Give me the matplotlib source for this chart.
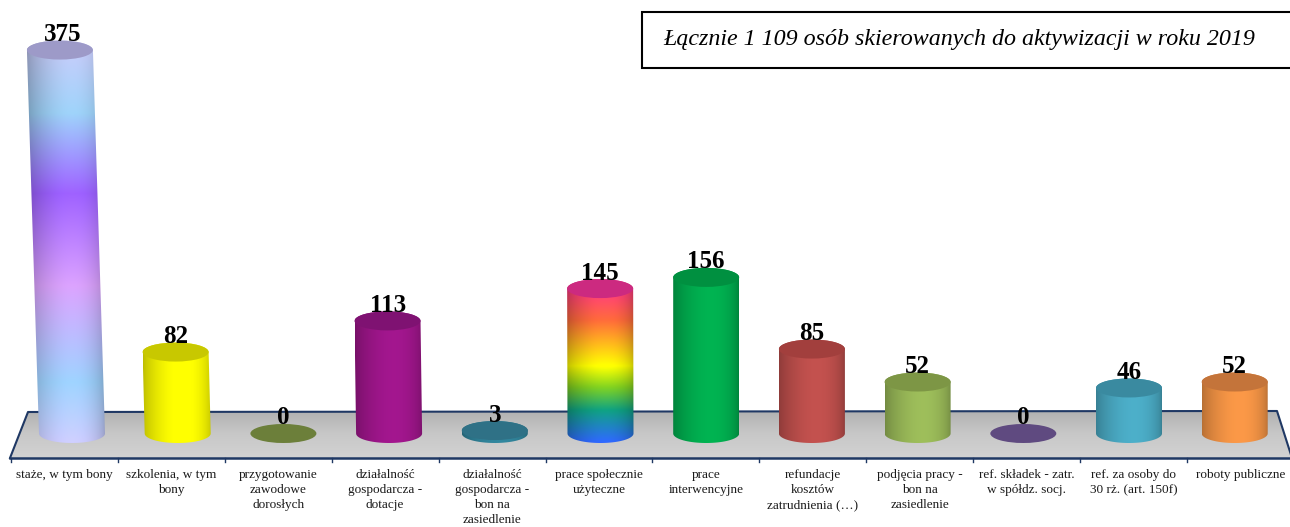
"""Aktywizacja 2019 - cylinder chart drawn with gradient images clipped to shapes."""
import numpy as np
import matplotlib
matplotlib.use("Agg")
import matplotlib.pyplot as plt
from matplotlib.colors import LinearSegmentedColormap, to_rgb
from matplotlib.patches import Ellipse, Polygon, Rectangle
from matplotlib.transforms import Affine2D

plt.rcParams['font.family'] = ['Liberation Serif', 'DejaVu Serif']

categories = [
    "staże, w tym bony", "szkolenia, w tym\nbony", "przygotowanie\nzawodowe\ndorosłych",
    "działalność\ngospodarcza -\ndotacje", "działalność\ngospodarcza -\nbon na\nzasiedlenie",
    "prace społecznie\nużyteczne", "prace\ninterwencyjne", "refundacje\nkosztów\nzatrudnienia (…)",
    "podjęcia pracy -\nbon na\nzasiedlenie", "ref. składek - zatr.\nw spółdz. socj.",
    "ref. za osoby do\n30 rż. (art. 150f)", "roboty publiczne",
]
values = [375, 82, 0, 113, 3, 145, 156, 85, 52, 0, 46, 52]

# body colours from top to bottom of each cylinder, (position, colour)
body_colors = [
    [(0, "#c8c8f6"), (0.18, "#9cd0f6"), (0.38, "#9c60ff"), (0.61, "#d8a0fa"), (0.85, "#9cd0fc"), (1, "#ccccff")],
    [(0, "#ffff00"), (1, "#ffff00")],
    [(0, "#76923c"), (1, "#76923c")],
    [(0, "#a0168c"), (1, "#a0168c")],
    [(0, "#31859c"), (1, "#31859c")],
    [(0, "#ff2a96"), (0.25, "#ff6a3a"), (0.53, "#ffff00"), (0.66, "#80d020"), (0.8, "#0fa080"), (1, "#2f66ff")],
    [(0, "#00b050"), (1, "#00b050")],
    [(0, "#c0504d"), (1, "#c0504d")],
    [(0, "#9bbb59"), (1, "#9bbb59")],
    [(0, "#604a7b"), (1, "#604a7b")],
    [(0, "#4bacc6"), (1, "#4bacc6")],
    [(0, "#f79646"), (1, "#f79646")],
]
cap_colors = ["#9d9ac8", "#c8c800", "#6c7f3a", "#7f1272", "#2f7186", "#cc2a80", "#009040",
              "#a23f3d", "#7d9645", "#5f4a80", "#3a8aa0", "#c4743a"]

BAR_STEP_PX = 105.7
FIRST_BAR_PX = 72
BASE_Y_PX = 433.5
W, H = 1290, 527
HALF_W = 33 / BAR_STEP_PX
HALF_H = 9.5

fig = plt.figure(figsize=(W / 100, H / 100), dpi=100)
ax = fig.add_axes([0, 0, 1, 1])
ax.set_xlim(-FIRST_BAR_PX / BAR_STEP_PX, (W - FIRST_BAR_PX) / BAR_STEP_PX)
ax.set_ylim(BASE_Y_PX - H, BASE_Y_PX)
ax.axis('off')

# decorations are placed in image pixels, y measured from the top
px = Affine2D().scale(1, -1).translate(0, H)


def height_of(value):
    # the tall bar is stretched a little by the perspective of the 3D view
    return value * (0.985 + 1.0e-4 * value)


def lean_of(i, value):
    # only the left hand bars tip over, in category units
    x_px = i * BAR_STEP_PX + FIRST_BAR_PX
    return min(0, (x_px - 645) * 5.5e-5 * height_of(value)) / BAR_STEP_PX


def cylinder_outline(xc, top, lean):
    t = np.linspace(np.pi, 2 * np.pi, 40)
    low = np.c_[xc + HALF_W * np.cos(t), HALF_H * np.sin(t)]
    t = np.linspace(0, np.pi, 40)
    high = np.c_[xc + lean + HALF_W * np.cos(t), top + HALF_H * np.sin(t)]
    return np.vstack([low, high])


def draw_cylinder(i, value):
    cap = cap_colors[i]
    if value == 0:
        ax.add_patch(Ellipse((i, 0), 2 * HALF_W, 2 * HALF_H, color=cap, lw=0, zorder=3))
        return
    top = height_of(value)
    lean = lean_of(i, value)
    # vertical colour ramp multiplied by the horizontal round shading
    stops = [(p, to_rgb(c)) for p, c in body_colors[i]]
    cmap = LinearSegmentedColormap.from_list("body", stops)
    ramp = cmap(np.linspace(0, 1, 256))[:, :3]
    u = np.linspace(0, 1, 128)
    shade = 0.74 + 0.28 * np.sin(np.pi * u ** 1.25) ** 0.6
    img = np.clip(ramp[:, None, :] * shade[None, :, None], 0, 1)
    im = ax.imshow(img, extent=[i + lean - HALF_W, i + HALF_W, -HALF_H, top + HALF_H],
                   aspect='auto', zorder=3, interpolation='bilinear')
    clip = Polygon(cylinder_outline(i, top, lean), transform=ax.transData, fc='none', ec='none')
    ax.add_patch(clip)
    im.set_clip_path(clip)
    ax.add_patch(Ellipse((i + lean, top), 2 * HALF_W, 2 * HALF_H, color=cap, lw=0, zorder=4))


# floor
floor = Polygon([(28, 412), (1277, 411), (1292, 458), (10, 458)], transform=px, fc='none', ec='none')
ax.add_patch(floor)
floor_cmap = LinearSegmentedColormap.from_list("floor", ["#b2b2b2", "#c8c8c8", "#d2d2d2"])
fim = ax.imshow(np.linspace(0, 1, 64)[:, None], cmap=floor_cmap, aspect='auto', zorder=1,
                extent=[ax.get_xlim()[0], ax.get_xlim()[1], BASE_Y_PX - 458, BASE_Y_PX - 411])
fim.set_clip_path(floor)
ax.plot([10, 28, 1277, 1292], [458, 412, 411, 458], transform=px, color="#1f3864", lw=1.5, zorder=2)
ax.plot([10, 1292], [458, 458], transform=px, color="#1f3864", lw=1.8, zorder=5)
for k in range(len(categories) + 1):
    tx = 11 + 106.9 * k
    ax.plot([tx, tx], [458, 462], transform=px, color="#1f3864", lw=1.0, zorder=5)

for i, value in enumerate(values):
    draw_cylinder(i, value)

# value labels and category names
for i, (value, name) in enumerate(zip(values, categories)):
    ax.text(i + 0.75 * lean_of(i, value), height_of(value) + 9, str(value), ha='center',
            va='baseline', fontsize=18, fontweight='bold', color='black', zorder=6)
    ax.text(11 + 106.9 * (i + 0.5), 469, name, transform=px, ha='center', va='top', fontsize=9.5,
            color='#1a1a1a', linespacing=1.34, zorder=6)

# title box
ax.add_patch(Rectangle((642, 12), 660, 56, transform=px, fc='white', ec='black', lw=1.5, zorder=7))
ax.text(663, 45, "Łącznie 1 109 osób skierowanych do aktywizacji w roku 2019", transform=px,
        ha='left', va='baseline', fontsize=17.3, fontstyle='italic', color='black', zorder=8)

fig.savefig("out.png", dpi=100)
